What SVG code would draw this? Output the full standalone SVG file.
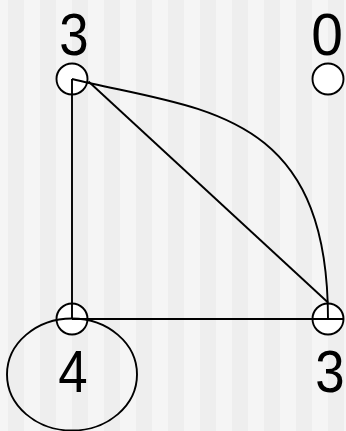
<svg xmlns="http://www.w3.org/2000/svg" width="346" height="431" viewBox="0 0 346 431">
  <defs>
    <pattern id="stripes" x="8" y="0" width="32" height="431" patternUnits="userSpaceOnUse">
      <rect x="0" y="0" width="16" height="431" fill="#eeeeee"/>
      <rect x="16" y="0" width="16" height="431" fill="#f5f5f5"/>
    </pattern>
  </defs>
  <style>
    .node { fill: #ffffff; stroke: #000000; stroke-width: 1.9; }
    .edge { fill: none; stroke: #000000; stroke-width: 1.9; }
    .label { font-family: "Liberation Sans", Arial, sans-serif; font-size: 60px; fill: #000000; text-anchor: middle; }
  </style>
  <rect x="0" y="0" width="346" height="431" fill="url(#stripes)"/>

  <g id="node-a">
    <circle class="node" cx="72" cy="79" r="15.5"/>
    <text class="label" transform="translate(74,55) scale(0.88,1)">3</text>
  </g>
  <g id="node-b">
    <circle class="node" cx="328" cy="79" r="15.5"/>
    <text class="label" transform="translate(327,55) scale(0.95,1)">0</text>
  </g>
  <g id="node-c">
    <circle class="node" cx="72" cy="319" r="15.5"/>
    <text class="label" transform="translate(73,392) scale(0.88,1)">4</text>
  </g>
  <g id="node-d">
    <circle class="node" cx="328" cy="319" r="15.5"/>
    <text class="label" transform="translate(330,392) scale(0.88,1)">3</text>
  </g>

  <g id="connectors">
    <line class="edge" x1="72" y1="79" x2="72" y2="319"/>
    <path class="edge" d="M72,79 C200,110 328,108 328,319"/>
    <line class="edge" x1="88.5" y1="81.5" x2="328" y2="302.5"/>
    <line class="edge" x1="72" y1="319" x2="344" y2="319"/>
    <ellipse class="edge" cx="72" cy="374.5" rx="65" ry="56"/>
  </g>
</svg>
